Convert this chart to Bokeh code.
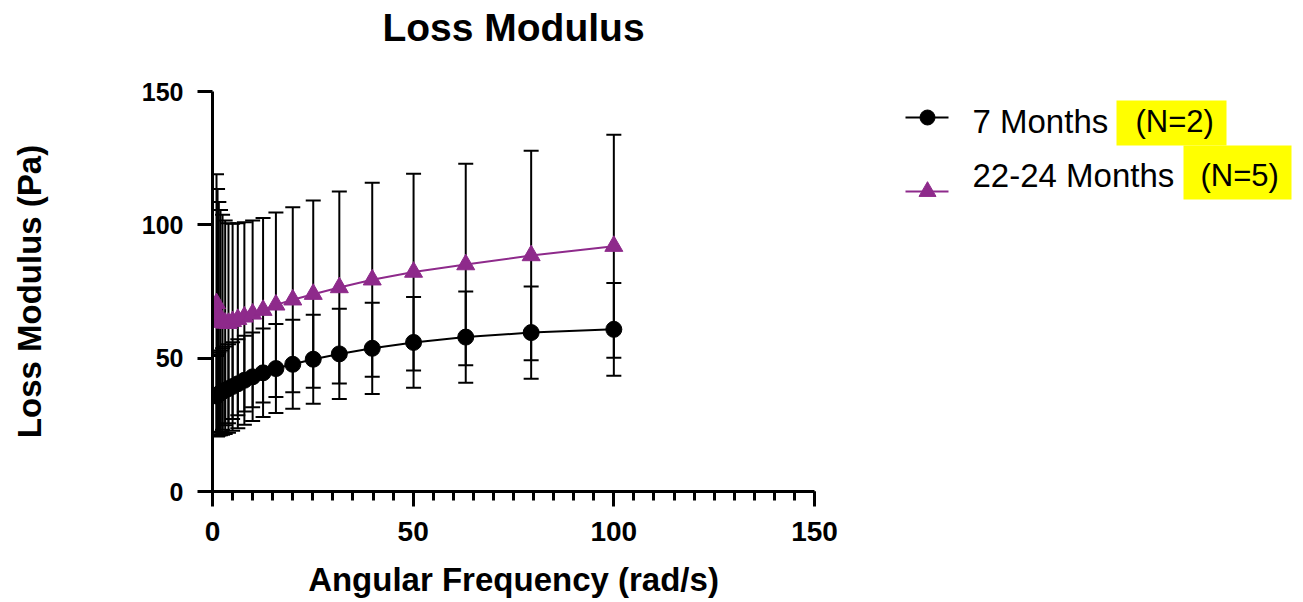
from bokeh.plotting import figure
from bokeh.layouts import row
from bokeh.models import (Range1d, SingleIntervalTicker, ColumnDataSource, Whisker, TeeHead)
from bokeh.core.properties import value
from bokeh.embed import file_html
from bokeh.resources import INLINE

# ---- data ----
freq = [1.0, 1.26, 1.58, 2.0, 2.51, 3.16, 3.98, 5.01, 6.31, 7.94, 10.0, 12.6, 15.8,
        20.0, 25.1, 31.6, 39.8, 50.1, 63.1, 79.4, 100.0]
m7_mean = [35.8, 36.2, 36.6, 37.0, 37.5, 38.0, 38.6, 39.4, 40.4, 41.7, 43.0, 44.5, 46.1,
           47.7, 49.6, 51.6, 53.7, 55.9, 57.9, 59.6, 60.8]
m7_sd = [15.0, 15.3, 15.6, 15.9, 16.2, 16.4, 16.6, 16.6, 16.7, 16.7, 16.6, 16.6, 16.7,
         16.7, 16.7, 16.9, 17.1, 17.0, 17.1, 17.3, 17.4]
m22_mean = [70.5, 67.0, 65.0, 64.0, 63.5, 63.2, 63.1, 63.8, 64.6, 65.5, 66.6, 68.0, 70.0,
            71.9, 74.0, 76.5, 79.4, 82.3, 85.1, 88.5, 92.0]
m22_sd = [48.5, 46.4, 43.6, 41.6, 40.3, 38.4, 37.5, 36.6, 36.0, 35.5, 35.0, 34.6, 34.6,
          34.7, 35.1, 36.0, 36.4, 36.9, 37.8, 39.3, 41.8]
series_names = ["7 Months", "22-24 Months"]
series_n = ["(N=2)", "(N=5)"]
x_ticks_interval = 50
y_ticks_interval = 50

PURPLE = "#8E2A8B"
FONT = "Liberation Sans"

W, H = 1303, 602
MAIN_W = 860
FL, FR, FT, FB = 212, 814, 91, 491

p = figure(width=MAIN_W, height=H, output_backend="svg", toolbar_location=None,
           x_range=Range1d(0, 150), y_range=Range1d(0, 150),
           min_border_left=FL, min_border_right=MAIN_W - FR,
           min_border_top=FT, min_border_bottom=H - FB)
p.outline_line_color = None
p.grid.visible = False
p.background_fill_color = "white"
p.border_fill_color = "white"

# trailing empty line lifts the title toward the top of the page
p.title.text = "Loss Modulus\n"
p.title.text_font = FONT
p.title.text_font_size = "39px"
p.title.text_font_style = "bold"
p.title.text_color = "black"
p.title.align = "center"
p.title.standoff = 0

for ax in (p.xaxis[0], p.yaxis[0]):
    ax.axis_line_width = 3
    ax.axis_line_color = "black"
    ax.major_tick_line_width = 3
    ax.minor_tick_line_width = 3
    ax.major_tick_in = 0
    ax.major_tick_out = 15
    ax.minor_tick_in = 0
    ax.minor_tick_out = 9
    ax.major_label_text_font = FONT
    ax.major_label_text_font_style = "bold"
    ax.major_label_text_color = "black"
    ax.axis_label_text_font = FONT
    ax.axis_label_text_font_size = "33px"
    ax.axis_label_text_font_style = "bold"
    ax.axis_label_text_color = "black"

p.xaxis.major_label_text_font_size = "28px"
p.yaxis.major_label_text_font_size = "25px"
p.xaxis.ticker = SingleIntervalTicker(interval=x_ticks_interval, num_minor_ticks=10)
p.yaxis.ticker = SingleIntervalTicker(interval=y_ticks_interval, num_minor_ticks=0)
p.yaxis.minor_tick_out = 0
p.xaxis.axis_label = "Angular Frequency (rad/s)"
p.yaxis.axis_label = "Loss Modulus (Pa)"
p.xaxis.major_label_standoff = 15
p.yaxis.major_label_standoff = 14
p.xaxis.axis_label_standoff = 17
p.yaxis.axis_label_standoff = 91

src7 = ColumnDataSource(dict(x=freq, y=m7_mean,
                             lo=[m - s for m, s in zip(m7_mean, m7_sd)],
                             hi=[m + s for m, s in zip(m7_mean, m7_sd)]))
src22 = ColumnDataSource(dict(x=freq, y=m22_mean,
                              lo=[m - s for m, s in zip(m22_mean, m22_sd)],
                              hi=[m + s for m, s in zip(m22_mean, m22_sd)]))

for src in (src22, src7):
    w = Whisker(source=src, base="x", lower="lo", upper="hi", line_color="black", line_width=2,
                upper_head=TeeHead(size=15, line_color="black", line_width=2),
                lower_head=TeeHead(size=15, line_color="black", line_width=2))
    p.add_layout(w)

p.line("x", "y", source=src7, line_color="black", line_width=2)
p.scatter("x", "y", source=src7, marker="circle", size=16, fill_color="black", line_color="black")
p.line("x", "y", source=src22, line_color=PURPLE, line_width=2)
p.scatter("x", "y", source=src22, marker="triangle", size=18, fill_color=PURPLE, line_color=PURPLE)

# ---- legend panel: its frame spans page pixels x MAIN_W..W, y FT..FB ----
lg = figure(width=W - MAIN_W, height=H, output_backend="svg", toolbar_location=None,
            x_range=Range1d(MAIN_W, W), y_range=Range1d(FB, FT),
            x_axis_location=None, y_axis_location=None,
            min_border_left=0, min_border_right=0,
            min_border_top=FT, min_border_bottom=H - FB)
lg.grid.visible = False
lg.outline_line_color = None
lg.background_fill_color = "white"
lg.border_fill_color = "white"

# highlight boxes
lg.quad(left=[1116, 1183], right=[1226, 1291], top=[100, 145], bottom=[145, 199],
        fill_color="#FFFF00", line_color=None)
# legend glyphs
lg.line([905, 948], [117, 117], line_color="black", line_width=2)
lg.scatter([927], [117], marker="circle", size=15, fill_color="black", line_color="black")
lg.line([905, 948], [191, 191], line_color=PURPLE, line_width=2)
lg.scatter([927], [191], marker="triangle", size=17, fill_color=PURPLE, line_color=PURPLE)

lg.text(x=[972, 972], y=[121, 175], text=series_names,
        text_font=value(FONT), text_font_size="33px", text_baseline="alphabetic",
        text_align="left", text_color="black")
lg.text(x=[1135, 1200], y=[121, 175], text=series_n,
        text_font=value(FONT), text_font_size="31px", text_baseline="alphabetic",
        text_align="left", text_color="black")

layout = row(p, lg, spacing=0)
open("out.html", "w").write(file_html(layout, INLINE))
